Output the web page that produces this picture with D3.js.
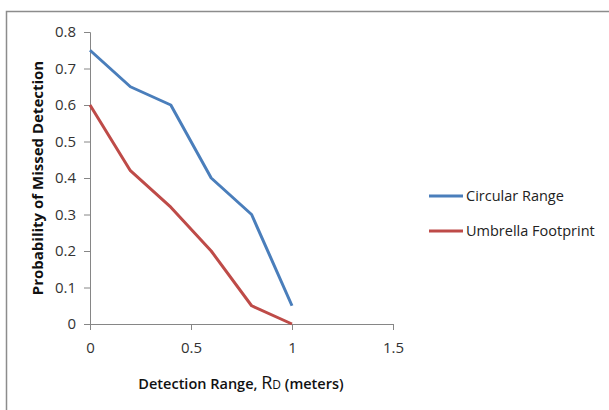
<!DOCTYPE html>
<html>
<head>
<meta charset="utf-8">
<script src="https://cdn.jsdelivr.net/npm/d3@7"></script>
<style>
  body { margin: 0; background: #fff; }
  text { font-family: "Open Sans", "Noto Sans", sans-serif; }
</style>
</head>
<body>
<div id="chart"></div>
<script>
// data
var xValues = [0, 0.2, 0.4, 0.6, 0.8, 1];
var circularRange = [0.75, 0.65, 0.6, 0.4, 0.3, 0.05];
var umbrellaFootprint = [0.6, 0.42, 0.32, 0.2, 0.05, 0];
var seriesNames = ["Circular Range", "Umbrella Footprint"];
var seriesColors = ["#4a7ebb", "#be4b48"];
var xTicks = [0, 0.5, 1, 1.5];
var yTicks = [0, 0.1, 0.2, 0.3, 0.4, 0.5, 0.6, 0.7, 0.8];

var width = 609, height = 410;
var svg = d3.select("#chart").append("svg").attr("width", width).attr("height", height);

// outer chart frame
svg.append("rect")
  .attr("x", 6.5).attr("y", 11.5)
  .attr("width", 620).attr("height", 420)
  .attr("fill", "none").attr("stroke", "#8c8c8c").attr("stroke-width", 1.5);

var x = d3.scaleLinear().domain([0, 1.5]).range([90, 393]);
var y = d3.scaleLinear().domain([0, 0.8]).range([324, 32]);

var g = svg.append("g");

// axes
var xAxis = g.append("g")
  .attr("transform", "translate(0," + y(0) + ")")
  .call(d3.axisBottom(x).tickValues(xTicks).tickSize(6).tickPadding(12)
    .tickFormat(function(d) { return d3.format("")(d); }));
var yAxis = g.append("g")
  .attr("transform", "translate(" + x(0) + ",0)")
  .call(d3.axisLeft(y).tickValues(yTicks).tickSize(6).tickPadding(8)
    .tickFormat(function(d) { return d3.format("")(d); }));

[xAxis, yAxis].forEach(function(a) {
  a.attr("font-size", null).attr("font-family", null);
  a.select(".domain").attr("stroke", "#868686");
  a.selectAll(".tick line").attr("stroke", "#868686");
  a.selectAll(".tick text")
    .attr("fill", "#333")
    .style("font-size", "15px");
});

// lines
var line = d3.line()
  .x(function(d, i) { return x(xValues[i]); })
  .y(function(d) { return y(d); });

[circularRange, umbrellaFootprint].forEach(function(s, i) {
  g.append("path")
    .datum(s)
    .attr("fill", "none")
    .attr("stroke", seriesColors[i])
    .attr("stroke-width", 3)
    .attr("stroke-linejoin", "round")
    .attr("d", line);
});

// axis titles
svg.append("text")
  .attr("transform", "translate(43," + 178 + ") rotate(-90)")
  .attr("text-anchor", "middle")
  .style("font-size", "15px")
  .style("font-weight", "bold")
  .attr("fill", "#111")
  .text("Probability of Missed Detection");

var xt = svg.append("text")
  .attr("x", 241).attr("y", 389)
  .attr("text-anchor", "middle")
  .style("font-size", "14.5px")
  .style("font-weight", "600")
  .attr("fill", "#111");
xt.append("tspan").text("Detection Range, ");
xt.append("tspan").style("font-size", "18px").style("font-weight", "normal").text("R");
xt.append("tspan").style("font-size", "12px").style("font-weight", "normal").text("D");
xt.append("tspan").text(" (meters)");

// legend
var legend = svg.append("g");
seriesNames.forEach(function(name, i) {
  var ly = 196 + i * 35;
  legend.append("line")
    .attr("x1", 429).attr("x2", 463)
    .attr("y1", ly).attr("y2", ly)
    .attr("stroke", seriesColors[i]).attr("stroke-width", 3);
  legend.append("text")
    .attr("x", 466).attr("y", ly + 5)
    .style("font-size", "14.5px")
    .attr("fill", "#222")
    .text(name);
});
</script>
</body>
</html>
